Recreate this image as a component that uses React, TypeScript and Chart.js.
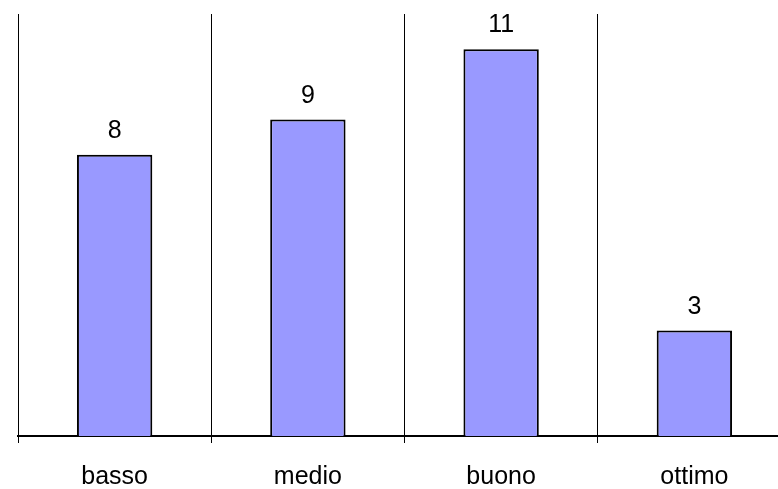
import React, { useEffect, useRef } from "react";
import { Chart, registerables } from "chart.js";

Chart.register(...registerables);

const categories = ["basso", "medio", "buono", "ottimo"];
const values = [8, 9, 11, 3];
const yMax = 12;

const FONT = '"Liberation Sans", Arial, sans-serif';

const valueLabels = {
  id: "valueLabels",
  afterDatasetsDraw(chart: any) {
    const ctx = chart.ctx;
    const meta = chart.getDatasetMeta(0);
    ctx.save();
    ctx.fillStyle = "#000";
    ctx.font = `25px ${FONT}`;
    ctx.textAlign = "center";
    ctx.textBaseline = "alphabetic";
    meta.data.forEach((el: any, i: number) => {
      ctx.fillText(String(values[i]), el.x, el.y - 17);
    });
    ctx.restore();
  },
};

export default function App() {
  const ref = useRef<HTMLCanvasElement | null>(null);
  useEffect(() => {
    if (!ref.current) return;
    const chart = new Chart(ref.current, {
      type: "bar",
      data: {
        labels: categories,
        datasets: [
          {
            data: values,
            backgroundColor: "#9999FF",
            borderColor: "#000000",
            borderWidth: 2,
            categoryPercentage: 1,
            barPercentage: 0.39,
          },
        ],
      },
      options: {
        responsive: false,
        animation: false,
        layout: { padding: { left: 18, right: 9, top: 14, bottom: 0 } },
        plugins: { legend: { display: false }, tooltip: { enabled: false } },
        scales: {
          x: {
            grid: {
              offset: true,
              color: "#000",
              lineWidth: 1,
              tickLength: 7,
              drawTicks: true,
            },
            border: { display: true, color: "#000", width: 2 },
            ticks: {
              color: "#000",
              font: { family: FONT, size: 25 },
              padding: 19,
            },
          },
          y: {
            display: false,
            min: 0,
            max: yMax,
          },
        },
      },
      plugins: [valueLabels],
    });
    return () => chart.destroy();
  }, []);
  return (
    <div
      style={{
        position: "absolute",
        left: 0,
        top: 0,
        width: 778,
        height: 489,
        overflow: "hidden",
        background: "#fff",
      }}
    >
      <canvas ref={ref} width={800} height={511} />
    </div>
  );
}
